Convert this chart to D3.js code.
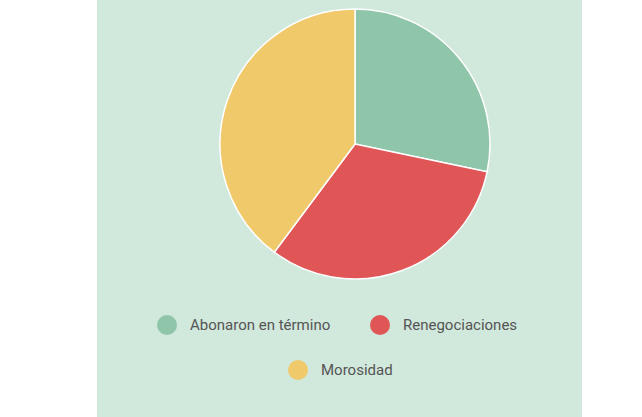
<!DOCTYPE html>
<html><head><meta charset="utf-8">
<script src="https://cdn.jsdelivr.net/npm/d3@7"></script>
<style>body{margin:0;background:#fff}</style></head>
<body><svg id="c" width="642" height="417"></svg>
<script>
const categories=["Abonaron en término","Renegociaciones","Morosidad"];
const values=[28.3,31.9,39.8];
const colors=["#8fc5a9","#e05556","#f0c96a"];
const svg=d3.select("#c");
svg.append("rect").attr("x",97).attr("y",0).attr("width",485).attr("height",417).attr("fill","#d1e8dc");
const pie=d3.pie().sort(null)(values);
const arc=d3.arc().innerRadius(0).outerRadius(135);
const g=svg.append("g").attr("transform","translate(355,144)");
g.selectAll("path").data(pie).join("path").attr("d",arc)
 .attr("fill",(d,i)=>colors[i]).attr("stroke","#fff").attr("stroke-width",1.5);
const leg=[[167,325],[380,325],[298,370]];
categories.forEach((c,i)=>{
 svg.append("circle").attr("cx",leg[i][0]).attr("cy",leg[i][1]).attr("r",10).attr("fill",colors[i]);
 svg.append("text").attr("x",leg[i][0]+23).attr("y",leg[i][1]+5).text(c)
  .attr("font-family","Roboto").attr("font-size",15).attr("fill","#555");
});
</script></body></html>
